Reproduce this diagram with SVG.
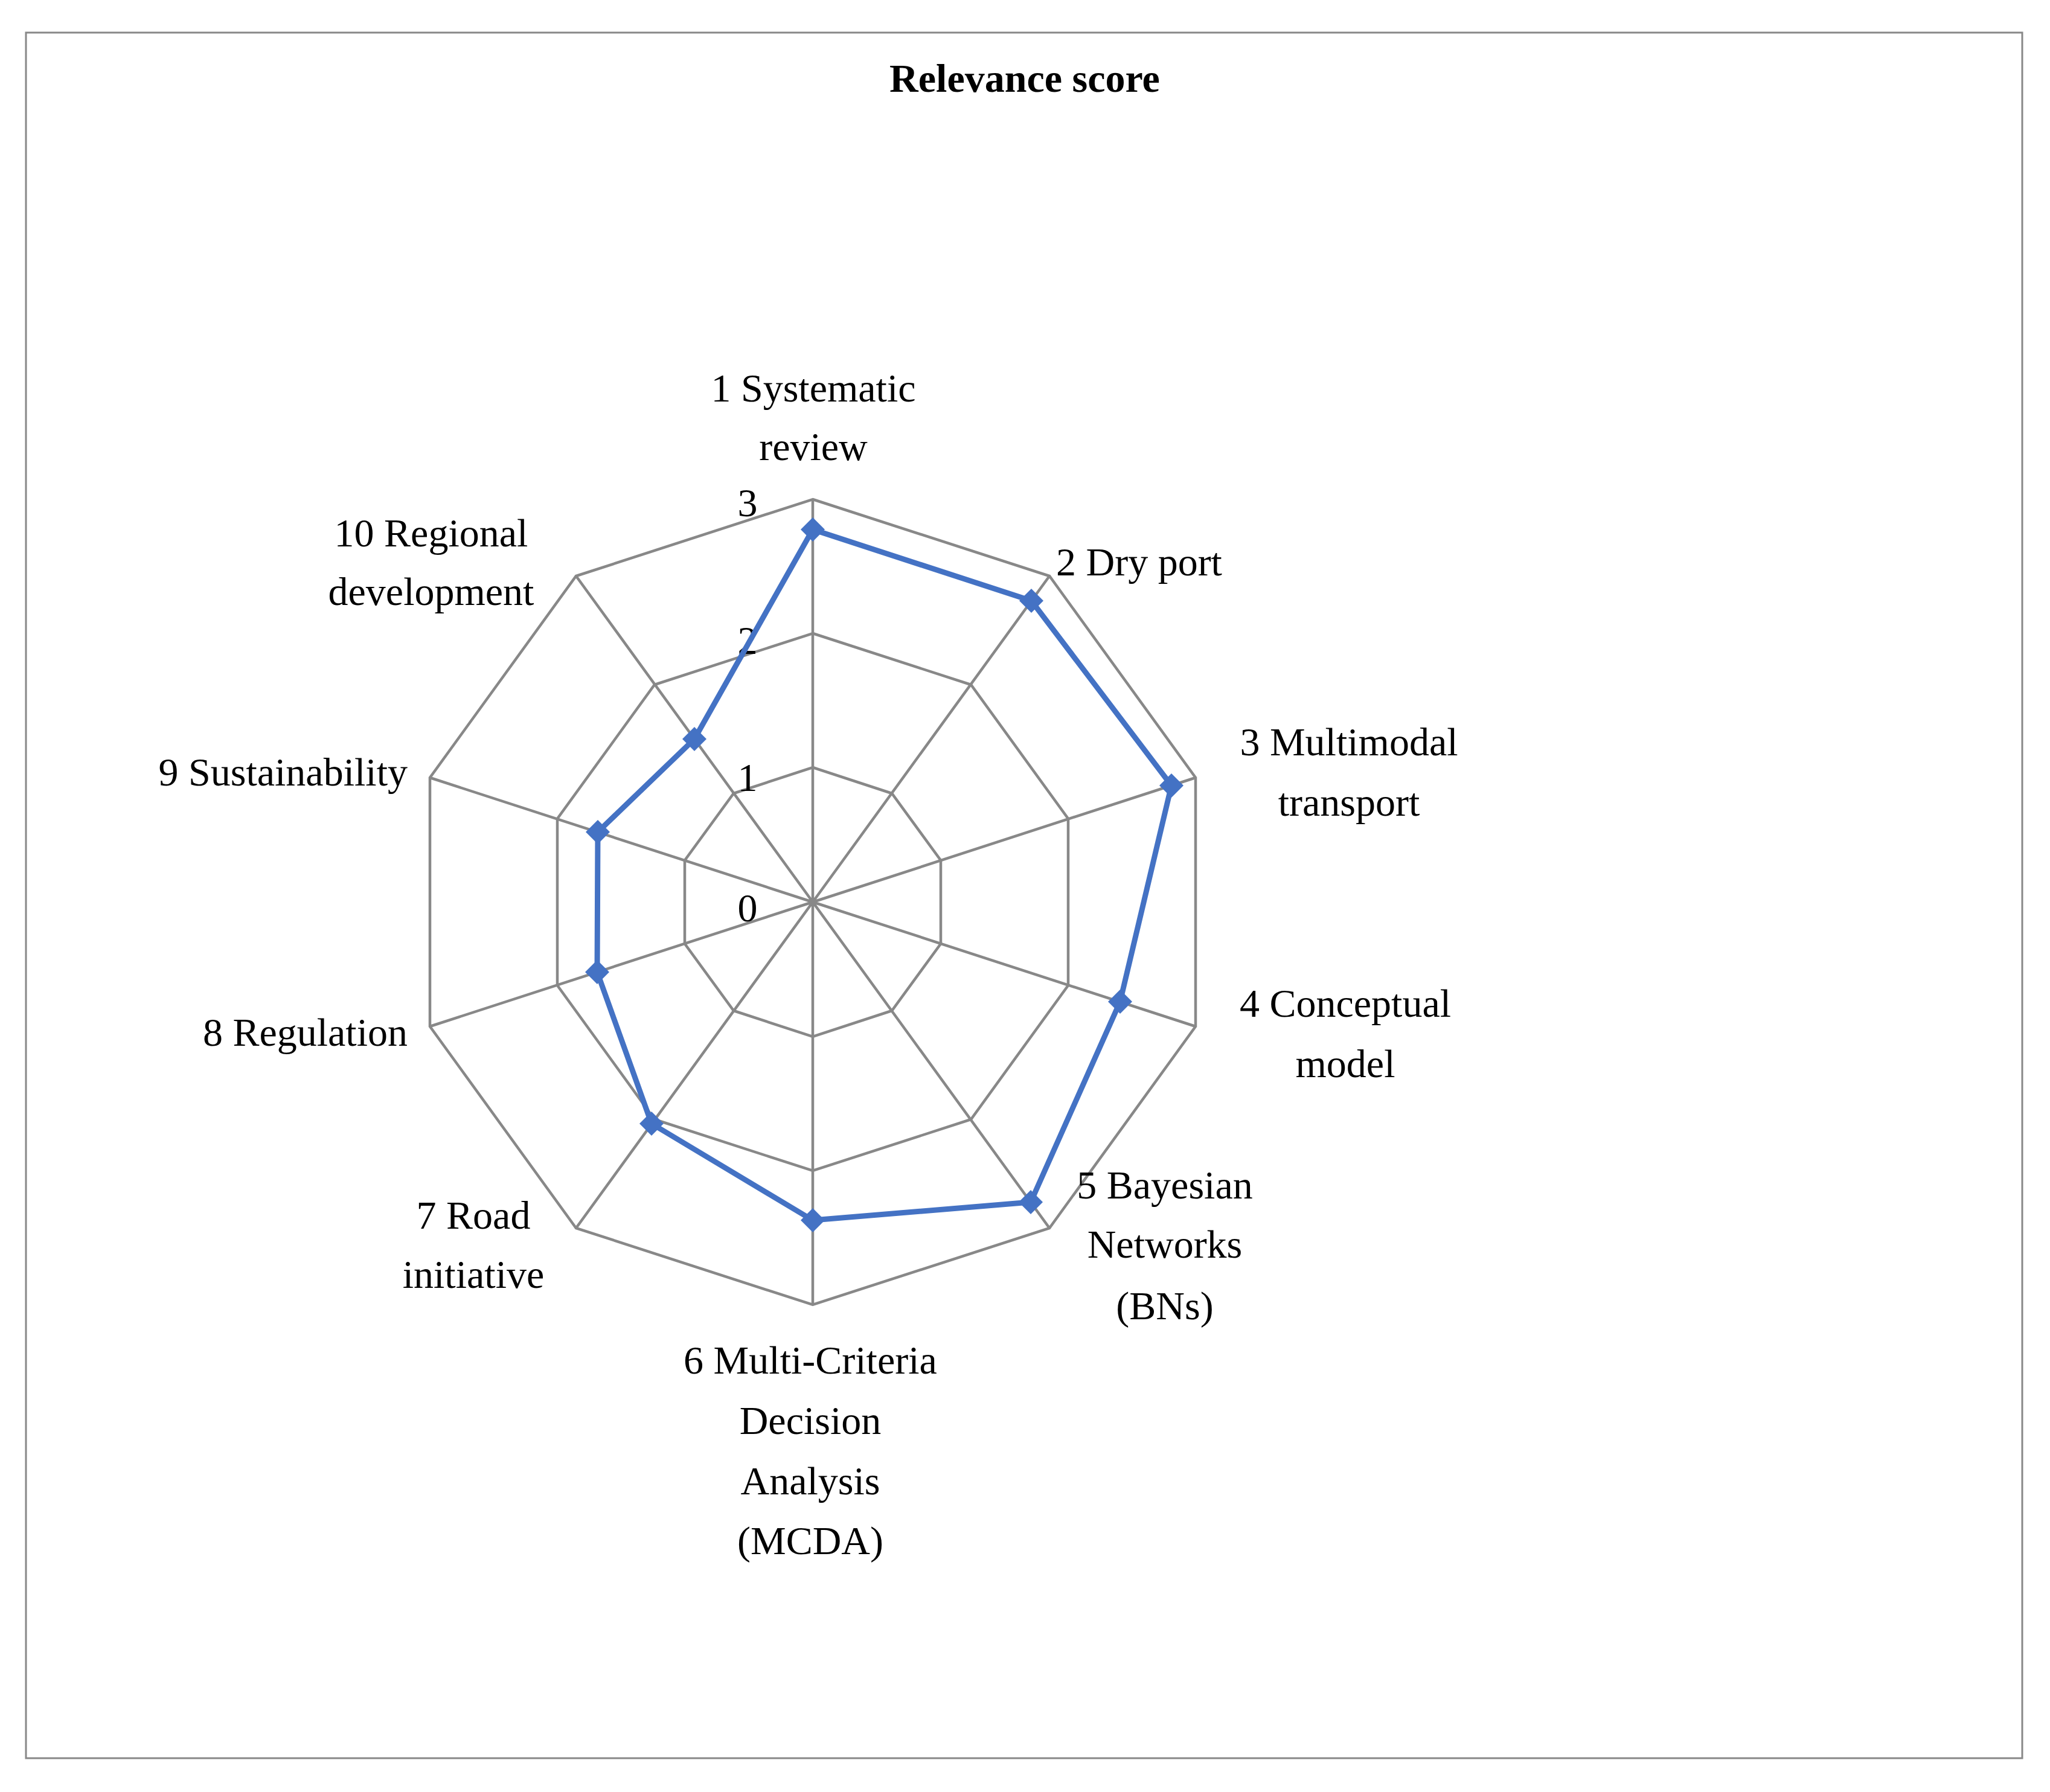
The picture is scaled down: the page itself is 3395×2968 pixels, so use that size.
<svg xmlns="http://www.w3.org/2000/svg" width="3395" height="2968" viewBox="0 0 3395 2968">
<style>
.t{font-family:"Liberation Serif",serif;font-size:66px;fill:#000}
.m{text-anchor:middle}
.e{text-anchor:end}
.g{fill:none;stroke:#888;stroke-width:4.5}
</style>
<defs><path id="dm" d="M0,-20 L20,0 L0,20 L-20,0Z" fill="#4472C4"/></defs>
<rect x="0" y="0" width="3395" height="2968" fill="#fff"/>
<rect x="43" y="54" width="3306" height="2858" fill="none" stroke="#888" stroke-width="3"/>
<text x="1697" y="152" class="t m" font-weight="bold" font-size="74">Relevance score</text>
<g id="grid" transform="translate(1346,1494)">
<polygon class="g" points="0,-223 131,-180 212,-69 212,69 131,180 0,223 -131,180 -212,69 -212,-69 -131,-180"/>
<polygon class="g" points="0,-445 262,-360 423,-138 423,138 262,360 0,445 -262,360 -423,138 -423,-138 -262,-360"/>
<polygon class="g" points="0,-667 392,-540 634,-206 634,206 392,540 0,667 -392,540 -634,206 -634,-206 -392,-540"/>
<path class="g" d="M0,0L0,-667M0,0L392,-540M0,0L634,-206M0,0L634,206M0,0L392,540M0,0L0,667M0,0L-392,540M0,0L-634,206M0,0L-634,-206M0,0L-392,-540"/>
</g>
<g id="ticks">
<text x="1238" y="855" class="t m">3</text>
<text x="1238" y="1083" class="t m">2</text>
<text x="1238" y="1310" class="t m">1</text>
<text x="1238" y="1526" class="t m">0</text>
</g>
<g id="series" transform="translate(1346,1494)">
<polygon points="0,-617 362,-499 594,-193 509,165 361,497 0,527 -267,367 -357,116 -356,-116 -196,-270" fill="none" stroke="#4472C4" stroke-width="9" stroke-linejoin="round"/>
<use href="#dm" x="0" y="-617"/><use href="#dm" x="362" y="-499"/><use href="#dm" x="594" y="-193"/><use href="#dm" x="509" y="165"/><use href="#dm" x="361" y="497"/><use href="#dm" x="0" y="527"/><use href="#dm" x="-267" y="367"/><use href="#dm" x="-357" y="116"/><use href="#dm" x="-356" y="-116"/><use href="#dm" x="-196" y="-270"/>
</g>
<g id="labels">
<text class="t m" x="1347" y="665">1 Systematic</text><text class="t m" x="1347" y="762">review</text>
<text class="t" x="1749" y="953">2 Dry port</text>
<text class="t m" x="2234" y="1251">3 Multimodal</text><text class="t m" x="2234" y="1351">transport</text>
<text class="t m" x="2228" y="1684">4 Conceptual</text><text class="t m" x="2228" y="1784">model</text>
<text class="t m" x="1929" y="1985">5 Bayesian</text><text class="t m" x="1929" y="2083">Networks</text><text class="t m" x="1929" y="2185">(BNs)</text>
<text class="t m" x="1342" y="2275">6 Multi-Criteria</text><text class="t m" x="1342" y="2375">Decision</text><text class="t m" x="1342" y="2475">Analysis</text><text class="t m" x="1342" y="2574">(MCDA)</text>
<text class="t m" x="784" y="2035">7 Road</text><text class="t m" x="784" y="2133">initiative</text>
<text class="t e" x="675" y="1732">8 Regulation</text>
<text class="t e" x="675" y="1301">9 Sustainability</text>
<text class="t m" x="714" y="905">10 Regional</text><text class="t m" x="714" y="1002">development</text>
</g>
</svg>
